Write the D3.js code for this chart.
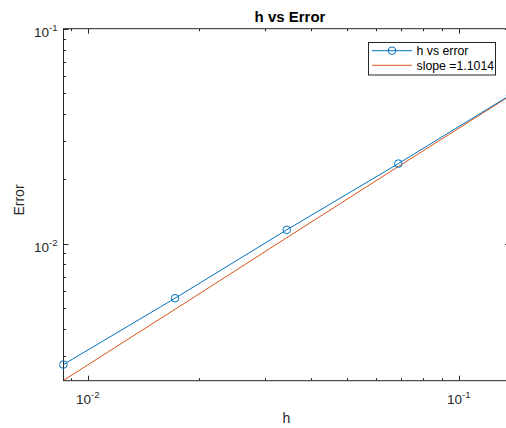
<!DOCTYPE html>
<html>
<head>
<meta charset="utf-8">
<script src="https://cdn.jsdelivr.net/npm/d3@7"></script>
<style>
  body { margin: 0; background: #fff; }
  svg { display: block; font-family: "Liberation Sans", Arial, sans-serif; }
</style>
</head>
<body>
<div class="chart"></div>
<script>

// step sizes and measured error
const hVals = [0.00859375, 0.0171875, 0.034375, 0.06875, 0.1375];
const errVals = [0.002735, 0.005566, 0.01158, 0.02356, 0.0490];
// fitted line values at the same h
const fitVals = [0.002307, 0.004943, 0.01064, 0.02284, 0.0487];

const xMajor = [0.01, 0.1];
const yMajor = [0.01, 0.1];
const majorLabels = ['-2', '-1'];

const legendLabels = ['h vs error', 'slope =1.1014'];

const width = 506;
const height = 428;

const blue = '#0072BD';
const orange = '#D95319';
const axisColor = '#262626';

const svg = d3.select('.chart')
   .append('svg')
   .attr('width', width)
   .attr('height', height);

const plotBox = {left: 63.5, right: 510, top: 28.7, bottom: 380.7};
const pL = plotBox.left, pR = plotBox.right, pT = plotBox.top, pB = plotBox.bottom;

const xScale = d3.scaleLog()
   .domain([0.0086, 0.1375])
   .range([pL, pR]);

const yScale = d3.scaleLog()
   .domain([0.0023, 0.1])
   .range([pB, pT]);

svg.append('clipPath').attr('id', 'plotclip')
   .append('rect')
   .attr('x', pL).attr('y', pT)
   .attr('width', pR - pL).attr('height', pB - pT);

// ticks, all pointing inward
const xTicks = xScale.ticks();
const yTicks = yScale.ticks();
const isMajor = (v, list) => list.some(m => Math.abs(m - v) / m < 1e-6);

const tickG = svg.append('g')
   .attr('stroke', axisColor)
   .attr('stroke-width', 1);

xTicks.forEach(v => {
   const x = Math.round(xScale(v)) + 0.5;
   const len = isMajor(v, xMajor) ? 5 : 2.5;
   tickG.append('line').attr('x1', x).attr('x2', x).attr('y1', pB).attr('y2', pB - len);
   tickG.append('line').attr('x1', x).attr('x2', x).attr('y1', pT).attr('y2', pT + len);
});

yTicks.forEach(v => {
   const y = Math.round(yScale(v)) + 0.5;
   const len = isMajor(v, yMajor) ? 5 : 2.5;
   tickG.append('line').attr('x1', pL).attr('x2', pL + len).attr('y1', y).attr('y2', y);
   tickG.append('line').attr('x1', pR).attr('x2', pR - len).attr('y1', y).attr('y2', y);
});

// box
svg.append('rect')
   .attr('x', pL).attr('y', pT)
   .attr('width', pR - pL).attr('height', pB - pT)
   .attr('fill', 'none')
   .attr('stroke', axisColor)
   .attr('stroke-width', 1);

// tick labels
xMajor.forEach((v, i) => {
   const t = svg.append('text')
      .attr('x', xScale(v))
      .attr('y', pB + 23.5)
      .attr('text-anchor', 'middle')
      .attr('fill', axisColor)
      .style('font-size', '13.5px')
      .text('10');
   t.append('tspan')
      .attr('dy', -6)
      .style('font-size', '9.5px')
      .text(majorLabels[i]);
});

yMajor.forEach((v, i) => {
   const t = svg.append('text')
      .attr('x', pL - 6)
      .attr('y', yScale(v) + 8)
      .attr('text-anchor', 'end')
      .attr('fill', axisColor)
      .style('font-size', '13.5px')
      .text('10');
   t.append('tspan')
      .attr('dy', -6)
      .style('font-size', '9.5px')
      .text(majorLabels[i]);
});

// lines
const line = d3.line()
   .x((d, i) => xScale(hVals[i]))
   .y(d => yScale(d));

const plot = svg.append('g').attr('clip-path', 'url(#plotclip)');

plot.append('path')
   .datum(fitVals)
   .attr('d', line)
   .attr('fill', 'none')
   .attr('stroke', orange)
   .attr('stroke-width', 1);

plot.append('path')
   .datum(errVals)
   .attr('d', line)
   .attr('fill', 'none')
   .attr('stroke', blue)
   .attr('stroke-width', 1);

svg.selectAll('circle.pt')
   .data(errVals)
   .enter()
   .append('circle')
      .classed('pt', true)
      .attr('cx', (d, i) => xScale(hVals[i]))
      .attr('cy', d => yScale(d))
      .attr('r', 3.8)
      .attr('fill', 'none')
      .attr('stroke', blue)
      .attr('stroke-width', 1);

// labels
svg.append('text')
   .attr('x', 290)
   .attr('y', 22)
   .attr('text-anchor', 'middle')
   .attr('fill', '#000')
   .style('font-size', '15px')
   .style('font-weight', 'bold')
   .text('h vs Error');

svg.append('text')
   .attr('x', 286.5)
   .attr('y', 423)
   .attr('text-anchor', 'middle')
   .attr('fill', axisColor)
   .style('font-size', '14px')
   .text('h');

svg.append('text')
   .attr('transform', 'translate(24,200) rotate(-90)')
   .attr('text-anchor', 'middle')
   .attr('fill', axisColor)
   .style('font-size', '14px')
   .text('Error');

// legend
const lg = svg.append('g');
lg.append('rect')
   .attr('x', 368.5).attr('y', 42.5)
   .attr('width', 127).attr('height', 32.5)
   .attr('fill', '#fff')
   .attr('stroke', axisColor)
   .attr('stroke-width', 1);

const legColors = [blue, orange];
legendLabels.forEach((lab, i) => {
   const y = 50.7 + i * 14.6;
   lg.append('line')
      .attr('x1', 372).attr('x2', 412)
      .attr('y1', y).attr('y2', y)
      .attr('stroke', legColors[i])
      .attr('stroke-width', 1);
   if (i === 0) {
      lg.append('circle')
         .attr('cx', 392).attr('cy', y).attr('r', 3.8)
         .attr('fill', 'none')
         .attr('stroke', blue)
         .attr('stroke-width', 1);
   }
   lg.append('text')
      .attr('x', 416.5)
      .attr('y', y + 4.5)
      .attr('fill', '#000')
      .style('font-size', '12.3px')
      .text(lab);
});

</script>
</body>
</html>
